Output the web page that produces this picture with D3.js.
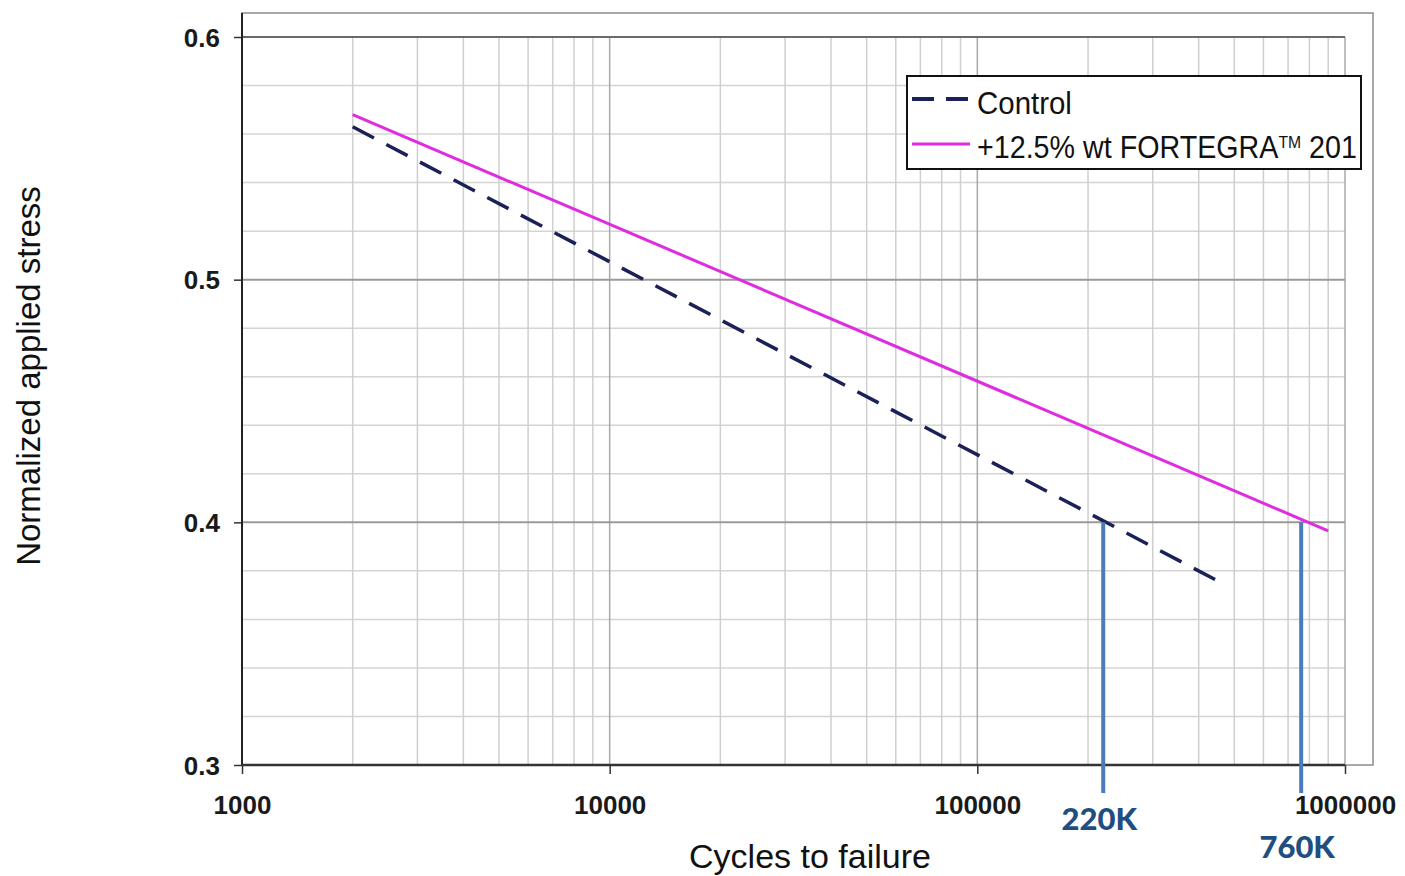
<!DOCTYPE html>
<html>
<head>
<meta charset="utf-8">
<script src="https://cdn.jsdelivr.net/npm/d3@7"></script>
<style>
  body { margin: 0; background: #fff; }
  svg { display: block; }
  .tick-label { font-family: "Liberation Sans", Arial, sans-serif; font-weight: bold; font-size: 26px; fill: #1a1a1a; }
  .narrow { font-family: "Liberation Sans", Arial, sans-serif; fill: #111; }
</style>
</head>
<body>
<div id="chart"></div>
<script>
// data
var xTicks = [1000, 10000, 100000, 1000000];
var yTicks = [0.3, 0.4, 0.5, 0.6];
var controlData = [[2000, 0.563], [462000, 0.375]];
var fortegraData = [[2000, 0.568], [900000, 0.3965]];
var markers = [[220000, 0.4, "220K"], [760000, 0.4, "760K"]];

var width = 1405, height = 876;

var svg = d3.select("#chart").append("svg")
  .attr("width", width)
  .attr("height", height);

// plot region
var plotLeft = 242, plotRight = 1345, plotTop = 37, plotBottom = 765;

var x = d3.scaleLog().domain([1000, 1000000]).range([plotLeft, plotRight]);
var y = d3.scaleLinear().domain([0.3, 0.6]).range([plotBottom, plotTop]);

// outer frame
svg.append("rect")
  .attr("x", plotLeft).attr("y", 13)
  .attr("width", 1373 - plotLeft).attr("height", plotBottom - 13)
  .attr("fill", "none").attr("stroke", "#8c8c8c").attr("stroke-width", 1.5);

// minor horizontal grid every 0.02
var yMinor = d3.range(0.32, 0.6, 0.02).filter(function(v) {
  return Math.abs(v * 10 - Math.round(v * 10)) > 0.01;
});
svg.append("g").selectAll("line").data(yMinor).enter().append("line")
  .attr("x1", plotLeft).attr("x2", plotRight)
  .attr("y1", function(d) { return y(d); })
  .attr("y2", function(d) { return y(d); })
  .attr("stroke", "#d4d4d4").attr("stroke-width", 1.5);

// vertical grid at every log step
var xMinor = [];
[1000, 10000, 100000].forEach(function(dec) {
  for (var k = 2; k <= 10; k++) xMinor.push(dec * k);
});
svg.append("g").selectAll("line").data(xMinor).enter().append("line")
  .attr("x1", function(d) { return x(d); })
  .attr("x2", function(d) { return x(d); })
  .attr("y1", plotTop).attr("y2", plotBottom)
  .attr("stroke", function(d) { return xTicks.indexOf(d) >= 0 ? "#a8a8a8" : "#cfcfcf"; })
  .attr("stroke-width", 1.5);

// major horizontal grid
svg.append("g").selectAll("line").data(yTicks.slice(1)).enter().append("line")
  .attr("x1", plotLeft).attr("x2", plotRight)
  .attr("y1", function(d) { return y(d); })
  .attr("y2", function(d) { return y(d); })
  .attr("stroke", function(d) { return d == 0.6 ? "#6a6a6a" : "#9a9a9a"; })
  .attr("stroke-width", 2);

// axes
var yAxis = svg.append("g")
  .attr("transform", "translate(" + plotLeft + ",0)")
  .call(d3.axisLeft(y).tickValues(yTicks).tickSize(8).tickFormat(d3.format(".1f")));
yAxis.select(".domain").remove();
yAxis.selectAll(".tick line").attr("stroke", "#333").attr("stroke-width", 1.5);
yAxis.selectAll(".tick text").attr("class", "tick-label").attr("x", -22).attr("dy", "0.35em");

svg.append("line")
  .attr("x1", plotLeft).attr("x2", plotLeft).attr("y1", 13).attr("y2", plotBottom)
  .attr("stroke", "#222").attr("stroke-width", 2);

var xAxis = svg.append("g")
  .attr("transform", "translate(0," + plotBottom + ")")
  .call(d3.axisBottom(x).tickValues(xTicks).tickSize(9).tickFormat(d3.format("d")));
xAxis.select(".domain").remove();
xAxis.selectAll(".tick line").attr("stroke", "#333").attr("stroke-width", 1.5);
xAxis.selectAll(".tick text").attr("class", "tick-label").attr("y", 40).attr("dy", "0.35em");

svg.append("line")
  .attr("x1", plotLeft).attr("x2", plotRight).attr("y1", plotBottom).attr("y2", plotBottom)
  .attr("stroke", "#333").attr("stroke-width", 2.5);

// series
var line = d3.line()
  .x(function(d) { return x(d[0]); })
  .y(function(d) { return y(d[1]); });

svg.append("path").datum(fortegraData)
  .attr("d", line).attr("fill", "none")
  .attr("stroke", "#e02ce0").attr("stroke-width", 3);

svg.append("path").datum(controlData)
  .attr("d", line).attr("fill", "none")
  .attr("stroke", "#1c2058").attr("stroke-width", 3.5)
  .attr("stroke-dasharray", "24,14");

// marker lines at 0.4
var mk = svg.append("g").selectAll("g").data(markers).enter().append("g");
mk.append("line")
  .attr("x1", function(d) { return x(d[0]); })
  .attr("x2", function(d) { return x(d[0]); })
  .attr("y1", function(d) { return y(d[1]); })
  .attr("y2", 793)
  .attr("stroke", "#4a7cbc").attr("stroke-width", 4);
mk.append("text")
  .attr("x", function(d) { return x(d[0]) - 4; })
  .attr("y", function(d, i) { return i == 0 ? 830 : 858; })
  .attr("text-anchor", "middle")
  .attr("font-family", "Lato, 'Open Sans', sans-serif")
  .attr("font-weight", 900)
  .attr("font-size", 31)
  .attr("fill", "#1f4e80")
  .text(function(d) { return d[2]; });

// legend
var lg = svg.append("g");
lg.append("rect")
  .attr("x", 907).attr("y", 76).attr("width", 454).attr("height", 93)
  .attr("fill", "#fff").attr("stroke", "#111").attr("stroke-width", 2);
lg.append("line")
  .attr("x1", 912).attr("x2", 970).attr("y1", 99).attr("y2", 99)
  .attr("stroke", "#1c2058").attr("stroke-width", 4).attr("stroke-dasharray", "22,12");
lg.append("line")
  .attr("x1", 912).attr("x2", 970).attr("y1", 144).attr("y2", 144)
  .attr("stroke", "#e02ce0").attr("stroke-width", 3);
lg.append("text").attr("class", "narrow")
  .attr("transform", "translate(977,114) scale(0.95,1)").attr("font-size", 31)
  .text("Control");
var t2 = lg.append("text").attr("class", "narrow")
  .attr("transform", "translate(977,158) scale(0.925,1)").attr("font-size", 31);
t2.append("tspan").text("+12.5% wt FORTEGRA");
t2.append("tspan").attr("font-size", 17).attr("dy", -10).text("TM");
t2.append("tspan").attr("dy", 10).text(" 201");

// axis titles
svg.append("text").attr("class", "narrow")
  .attr("x", 810).attr("y", 868)
  .attr("text-anchor", "middle").attr("font-size", 34)
  .text("Cycles to failure");

svg.append("text").attr("class", "narrow")
  .attr("transform", "translate(40,376) rotate(-90)")
  .attr("text-anchor", "middle").attr("font-size", 33)
  .text("Normalized applied stress");
</script>
</body>
</html>
